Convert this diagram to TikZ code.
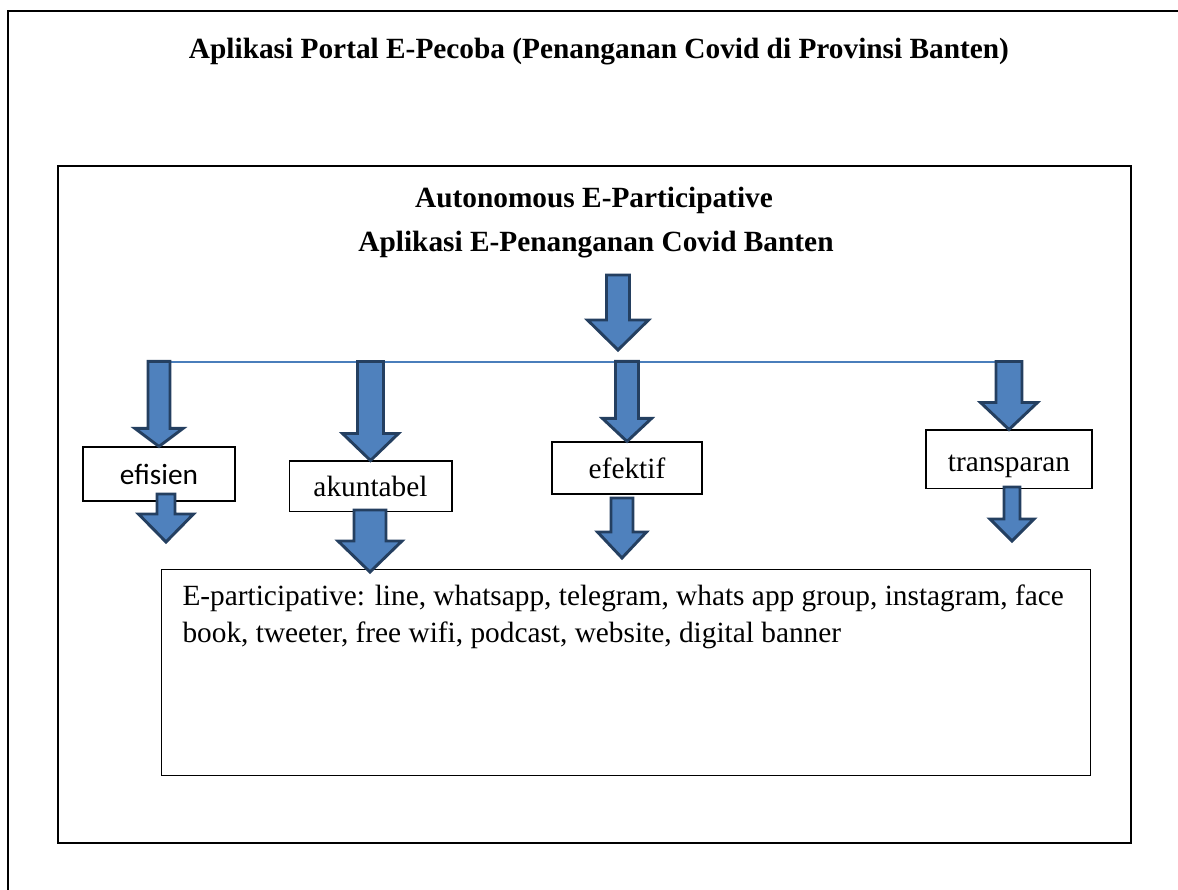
\documentclass[tikz,border=0pt]{standalone}
\usepackage{fontspec}
\setmainfont{Liberation Serif}
\newfontfamily\calibri{Carlito}
\usepackage{tikz}
\usetikzlibrary{calc}

\definecolor{arrowfill}{HTML}{4F81BD}
\definecolor{arrowline}{HTML}{243F60}
\definecolor{barline}{HTML}{4A7EBB}

% block arrow ending in #1; #2 length, #3 head length, #4 half shaft, #5 half head
\newcommand{\fatarrow}[5]{%
  \draw[fatarrow] (#1) -- ++(-#5,-#3) -- ++(#5-#4,0) -- ++(0,-#2+#3)
    -- ++(2*#4,0) -- ++(0,#2-#3) -- ++(#5-#4,0) -- cycle;}

\begin{document}
\begin{tikzpicture}[x=0.375pt,y=-0.375pt,
    box/.style={draw,thin,inner sep=0pt,text depth=0pt,font=\fontsize{11}{13}\selectfont},
    heading/.style={font=\bfseries\fontsize{11}{13}\selectfont},
    fatarrow/.style={draw=arrowline,fill=arrowfill,line width=1.1pt,line join=miter},
    frame/.style={draw,line width=0.8pt}]
  \useasboundingbox (0,0) rectangle (1178,890);
  \draw[frame] (1178,11) -- (8,11) -- (8,890);
  \draw[frame] (58,166) rectangle (1131,843);

  \node[heading] (title) at (599,52) {Aplikasi Portal E-Pecoba (Penanganan Covid di Provinsi Banten)};
  \node[heading] (auto) at (594,200) {Autonomous E-Participative};
  \node[heading] (app) at (596,245) {Aplikasi E-Penanganan Covid Banten};

  \coordinate (barL) at (147,362);
  \coordinate (barR) at (1022,362);
  \draw[barline,line width=0.75pt] (barL) -- (barR);

  \node[box,minimum width=57pt,minimum height=20.25pt,font=\calibri\fontsize{11}{13}\selectfont] (efisien) at (159,474) {efisien};
  \node[box,minimum width=61.1pt,minimum height=19.1pt] (akuntabel) at (370.5,486.5) {akuntabel};
  \node[box,minimum width=56.25pt,minimum height=19.5pt] (efektif) at (627,468) {efektif};
  \node[box,minimum width=62.25pt,minimum height=22.1pt,text height=9pt] (transparan) at (1009,459.5) {transparan};

  \node[box,anchor=north west,minimum width=348.4pt,minimum height=77.25pt] (media) at (161,569) {};
  \node[anchor=base west,align=left,inner sep=0pt,font=\fontsize{11}{13.9}\selectfont] (mediatext) at (182,643)
    {E-participative: line, whatsapp, telegram, whats app group, instagram, face\\
     book, tweeter, free wifi, podcast, website, digital banner};

  % arrows from the heading down to the bar
  \coordinate (apptip) at (618,350);
  \fatarrow{apptip}{75}{30}{11.5}{30.5}

  % arrows from the bar into the boxes
  \fatarrow{efisien.north}{85}{18}{11}{24}
  \fatarrow{akuntabel.north}{99}{27}{13}{28}
  \fatarrow{efektif.north}{80}{23}{11.5}{24.5}
  \fatarrow{transparan.north}{68}{27}{13}{28.5}

  % arrows out of the boxes
  \coordinate (efisienout) at (166,542);
  \coordinate (akuntabelout) at (370,572);
  \coordinate (efektifout) at (622,558);
  \coordinate (transparanout) at (1012,541);
  \fatarrow{efisienout}{48}{28}{9}{27.5}
  \fatarrow{akuntabelout}{62}{31}{16}{32}
  \fatarrow{efektifout}{60}{26}{11}{24.5}
  \fatarrow{transparanout}{54}{22}{8}{22}
\end{tikzpicture}
\end{document}
